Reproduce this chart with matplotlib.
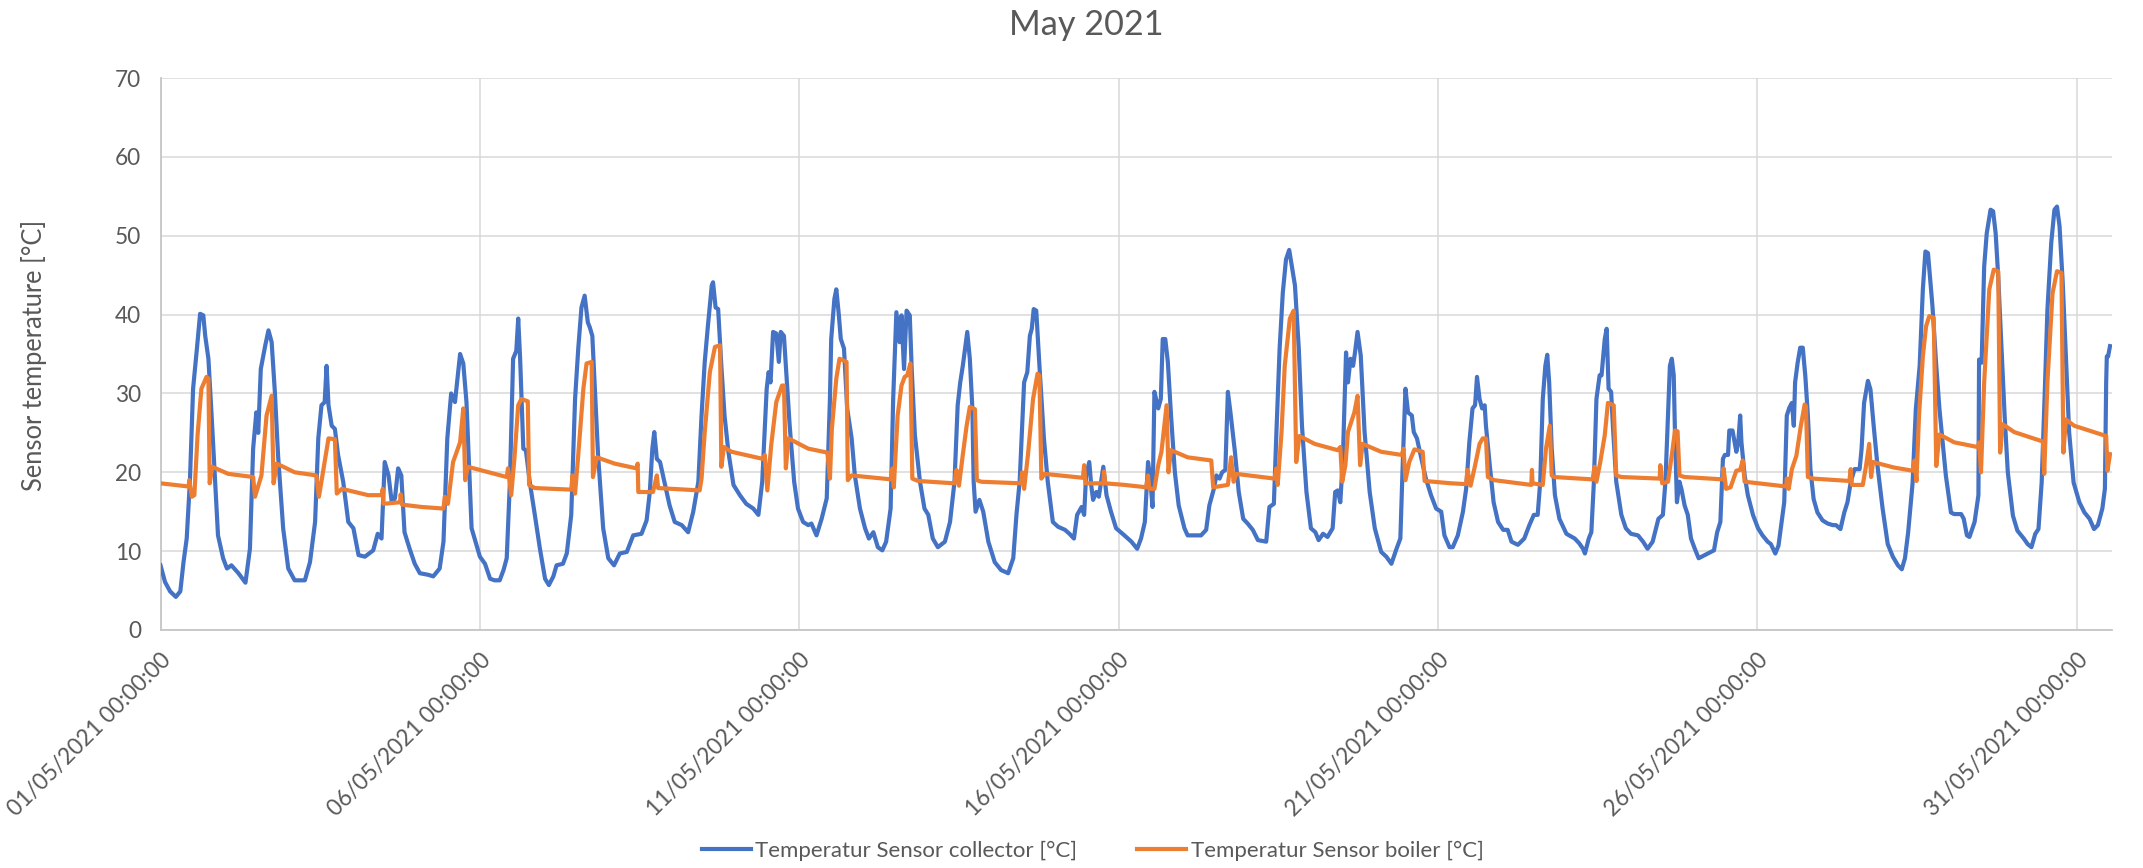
import matplotlib
matplotlib.use("Agg")
import matplotlib.pyplot as plt

# time in days since 01/05/2021 00:00, values in degC
coll_day = [
    0.00, 0.07, 0.15, 0.24, 0.31, 0.36, 0.41, 0.46, 0.51, 0.57, 0.62, 0.67, 0.70, 0.75, 0.80, 0.85, 0.90, 0.98,
    1.04, 1.11, 1.22, 1.33, 1.40, 1.45, 1.50, 1.53, 1.57, 1.64, 1.69, 1.74, 1.79, 1.84, 1.92,
    2.00, 2.10, 2.26, 2.34, 2.42, 2.47, 2.52, 2.57, 2.60, 2.63, 2.68, 2.73, 2.78, 2.86, 2.94,
    3.02, 3.10, 3.20, 3.33, 3.40, 3.46, 3.51, 3.57, 3.62, 3.67, 3.72, 3.77, 3.82, 3.90, 3.98,
    4.06, 4.19, 4.27, 4.37, 4.43, 4.49, 4.55, 4.61, 4.69, 4.74, 4.79, 4.87,
    5.00, 5.08, 5.16, 5.23, 5.31, 5.37, 5.42, 5.47, 5.52, 5.57, 5.60, 5.63, 5.68, 5.72, 5.78, 5.86, 5.94,
    6.02, 6.08, 6.15, 6.20, 6.30, 6.36, 6.43, 6.49, 6.54, 6.59, 6.64, 6.69, 6.72, 6.76, 6.80, 6.85, 6.93,
    7.01, 7.10, 7.19, 7.30, 7.40, 7.53, 7.61, 7.66, 7.70, 7.73, 7.77, 7.82, 7.90, 7.97,
    8.05, 8.16, 8.26, 8.34, 8.42, 8.47, 8.52, 8.57, 8.63, 8.65, 8.69, 8.73, 8.78, 8.83, 8.89, 8.97,
    9.07, 9.17, 9.28, 9.36, 9.42, 9.49, 9.52, 9.55, 9.59, 9.64, 9.68, 9.71, 9.76, 9.80, 9.85, 9.92, 9.98,
    10.06, 10.14, 10.19, 10.27, 10.35, 10.43, 10.48, 10.50, 10.55, 10.58, 10.62, 10.65, 10.70, 10.75, 10.82,
    10.87, 10.95, 11.03, 11.09, 11.16, 11.23, 11.30, 11.36, 11.43, 11.47, 11.52, 11.57, 11.60, 11.64, 11.68,
    11.73, 11.76, 11.81, 11.89, 11.96, 12.02, 12.09, 12.17, 12.28, 12.36, 12.43, 12.48, 12.52, 12.56, 12.63,
    12.67, 12.71, 12.73, 12.76, 12.82, 12.88, 12.96, 13.06, 13.16, 13.27, 13.35, 13.40, 13.45, 13.52, 13.57,
    13.61, 13.64, 13.67, 13.71, 13.76, 13.83, 13.89, 13.97, 14.05, 14.16, 14.23, 14.30, 14.35, 14.42, 14.46,
    14.49, 14.54, 14.57, 14.60, 14.65, 14.69, 14.76, 14.81, 14.88, 14.96,
    15.09, 15.20, 15.29, 15.35, 15.41, 15.46, 15.49, 15.53, 15.56, 15.62, 15.66, 15.69, 15.73, 15.77, 15.82,
    15.88, 15.94, 16.03, 16.08, 16.29, 16.37, 16.42, 16.49, 16.53, 16.58, 16.62, 16.67, 16.71, 16.75, 16.82,
    16.88, 16.95, 17.02, 17.10, 17.18, 17.31, 17.36, 17.43, 17.47, 17.52, 17.57, 17.62, 17.67, 17.71, 17.76,
    17.82, 17.87, 17.94, 18.01, 18.08, 18.13, 18.20, 18.27, 18.35, 18.39, 18.43, 18.47, 18.51, 18.56, 18.59,
    18.63, 18.67, 18.70, 18.74, 18.79, 18.85, 18.93, 19.01, 19.11, 19.19, 19.27, 19.35, 19.41, 19.45, 19.49,
    19.53, 19.59, 19.62, 19.67, 19.74, 19.81, 19.89, 19.97,
    20.05, 20.10, 20.18, 20.23, 20.31, 20.39, 20.44, 20.49, 20.54, 20.58, 20.61, 20.65, 20.69, 20.73, 20.75,
    20.81, 20.87, 20.94, 21.02, 21.09, 21.15, 21.25, 21.35, 21.43, 21.50, 21.56, 21.60, 21.64, 21.68, 21.71,
    21.74, 21.78, 21.83, 21.90, 22.01, 22.14, 22.21, 22.27, 22.30, 22.36, 22.40, 22.44, 22.48, 22.53, 22.56,
    22.61, 22.64, 22.67, 22.71, 22.74, 22.79, 22.87, 22.94, 23.02, 23.13, 23.21, 23.28, 23.36, 23.45, 23.52,
    23.56, 23.60, 23.63, 23.66, 23.69, 23.71, 23.74, 23.78, 23.81, 23.86, 23.91, 23.96, 24.02, 24.08, 24.20,
    24.32, 24.37, 24.42, 24.46, 24.49, 24.54, 24.56, 24.61, 24.67, 24.70, 24.73, 24.75, 24.80, 24.85, 24.93,
    25.01, 25.08, 25.16, 25.21, 25.28, 25.33, 25.38, 25.42, 25.46, 25.50, 25.54, 25.57, 25.59, 25.63, 25.67,
    25.71, 25.75, 25.79, 25.83, 25.88, 25.94, 26.02, 26.10, 26.18, 26.23, 26.30, 26.36, 26.41, 26.46, 26.52,
    26.60, 26.63, 26.67, 26.73, 26.77, 26.82, 26.88, 26.96, 27.04, 27.12, 27.20, 27.26, 27.31, 27.36, 27.43,
    27.48, 27.54, 27.59, 27.63, 27.67, 27.71, 27.74, 27.80, 27.85, 27.90, 27.95, 28.03, 28.08, 28.19, 28.23,
    28.28, 28.32, 28.40, 28.46, 28.47, 28.51, 28.55, 28.59, 28.65, 28.69, 28.73, 28.77, 28.81, 28.87, 28.92,
    29.00, 29.07, 29.17, 29.23, 29.29, 29.35, 29.40, 29.45, 29.50, 29.54, 29.60, 29.65, 29.69, 29.73, 29.78,
    29.83, 29.88, 29.95, 30.04, 30.12, 30.20, 30.27, 30.33, 30.40, 30.44, 30.46, 30.47, 30.49, 30.52,
]
coll_val = [
    8.2, 6.1, 4.9, 4.2, 4.9, 8.6, 11.6, 18.8, 30.6, 35.7, 40.1, 39.9, 37.3, 34.4, 27.2, 19.6, 12.0, 9.1,
    7.8, 8.2, 7.2, 6.0, 10.3, 23.0, 27.6, 25.0, 33.1, 36.1, 38.0, 36.5, 30.2, 22.2, 12.9,
    7.8, 6.3, 6.3, 8.6, 13.7, 24.3, 28.5, 28.9, 33.5, 28.5, 25.9, 25.5, 22.2, 18.8, 13.7,
    12.9, 9.5, 9.3, 10.1, 12.2, 11.6, 21.3, 19.6, 16.2, 16.7, 20.5, 19.6, 12.4, 10.3, 8.4,
    7.2, 7.0, 6.8, 7.8, 11.2, 24.3, 30.0, 28.9, 35.0, 33.8, 28.9, 12.9,
    9.3, 8.4, 6.5, 6.3, 6.3, 7.6, 9.1, 18.8, 34.4, 35.4, 39.5, 34.4, 23.0, 22.8, 18.8, 14.6, 10.3,
    6.5, 5.7, 6.8, 8.2, 8.4, 9.7, 14.6, 29.3, 35.7, 40.9, 42.4, 39.0, 38.4, 37.3, 30.6, 22.2, 12.9,
    9.1, 8.2, 9.7, 9.9, 12.0, 12.2, 13.9, 17.5, 23.0, 25.1, 21.7, 21.3, 18.4, 15.8,
    13.7, 13.3, 12.4, 15.0, 18.8, 27.2, 34.0, 38.6, 43.7, 44.1, 40.9, 40.7, 33.5, 27.2, 22.6, 18.4,
    17.1, 16.0, 15.4, 14.6, 18.8, 30.6, 32.7, 31.4, 37.8, 37.6, 34.0, 37.8, 37.3, 32.3, 25.9, 18.8, 15.4,
    13.7, 13.3, 13.5, 12.0, 14.1, 16.7, 29.3, 36.9, 42.0, 43.2, 39.9, 36.9, 35.7, 28.1, 24.3,
    19.6, 15.4, 12.9, 11.6, 12.4, 10.5, 10.1, 11.2, 15.4, 29.3, 40.3, 36.5, 39.9, 33.1, 40.5,
    39.9, 33.1, 24.7, 18.8, 15.4, 14.6, 11.6, 10.5, 11.2, 13.7, 18.8, 28.5, 31.4, 33.5, 37.8,
    34.4, 28.1, 18.8, 15.0, 16.5, 15.0, 11.2, 8.6, 7.6, 7.2, 9.1, 14.6, 18.8, 31.4, 32.7,
    37.3, 38.2, 40.7, 40.5, 33.5, 24.3, 18.8, 13.7, 13.1, 12.7, 12.2, 11.6, 14.6, 15.6, 14.6,
    19.6, 21.3, 18.4, 16.5, 17.5, 16.9, 20.7, 17.1, 15.0, 12.9,
    12.0, 11.2, 10.3, 11.6, 13.7, 21.3, 19.6, 15.6, 30.2, 28.1, 29.3, 36.9, 36.9, 34.0, 27.2,
    20.0, 15.8, 12.9, 12.0, 12.0, 12.7, 15.8, 17.9, 19.6, 19.2, 20.0, 20.3, 30.2, 27.6, 22.6,
    17.5, 14.1, 13.5, 12.7, 11.4, 11.2, 15.6, 16.0, 25.1, 35.7, 42.8, 47.0, 48.2, 46.2, 43.7,
    35.7, 25.9, 17.5, 12.9, 12.4, 11.4, 12.2, 11.8, 12.9, 17.5, 17.7, 16.2, 21.7, 35.2, 31.4,
    34.4, 33.5, 35.2, 37.8, 34.8, 25.1, 17.5, 12.9, 9.9, 9.3, 8.4, 10.3, 11.6, 21.7, 30.6,
    27.6, 27.2, 25.1, 24.3, 21.7, 19.2, 17.1, 15.4,
    15.0, 12.0, 10.5, 10.5, 12.0, 15.0, 17.9, 23.8, 28.1, 28.5, 32.1, 29.3, 28.1, 28.5, 25.9,
    20.9, 16.2, 13.7, 12.7, 12.7, 11.2, 10.8, 11.6, 13.3, 14.6, 14.6, 18.8, 29.3, 33.5, 34.9,
    31.4, 23.0, 17.1, 14.1, 12.2, 11.6, 11.0, 10.3, 9.7, 11.6, 12.4, 18.8, 29.3, 32.3, 32.3,
    36.9, 38.2, 30.6, 30.2, 25.5, 18.8, 14.6, 12.9, 12.2, 12.0, 11.2, 10.3, 11.2, 14.1, 14.6,
    18.8, 27.2, 33.5, 34.4, 32.3, 24.7, 16.2, 18.8, 17.9, 15.8, 14.6, 11.6, 10.3, 9.1, 9.6,
    10.1, 12.4, 13.7, 21.7, 22.2, 22.2, 25.3, 25.3, 22.6, 23.8, 27.2, 23.8, 19.6, 17.1, 14.6,
    12.9, 12.0, 11.2, 10.9, 9.7, 10.7, 13.7, 16.2, 27.2, 28.2, 28.8, 25.9, 31.4, 33.9, 35.8,
    35.8, 32.2, 27.2, 20.4, 16.6, 14.9, 13.9, 13.5, 13.3, 13.3, 12.8, 14.9, 16.2, 18.7, 20.4,
    20.4, 22.9, 28.8, 31.6, 30.5, 25.9, 20.8, 15.4, 10.9, 9.3, 8.2, 7.7, 9.1, 12.4, 18.7,
    28.0, 33.5, 43.2, 48.0, 47.8, 44.0, 41.1, 33.5, 28.0, 23.8, 19.6, 14.9, 14.7, 14.7, 14.1,
    12.0, 11.8, 13.7, 17.1, 34.3, 33.9, 46.1, 50.3, 53.3, 53.1, 50.3, 44.8, 37.7, 27.2, 20.0,
    14.5, 12.6, 11.6, 10.9, 10.5, 12.2, 12.8, 18.7, 30.5, 40.6, 49.1, 53.3, 53.7, 51.2, 44.0,
    34.7, 25.1, 18.7, 16.2, 14.9, 14.1, 12.8, 13.3, 15.4, 17.9, 31.4, 34.7, 34.7, 36.0,
]

boil_day = [
    0.00, 0.44, 0.45, 0.49, 0.53, 0.58, 0.64, 0.72, 0.75, 0.77, 0.81, 1.06, 1.45, 1.48, 1.58, 1.66, 1.74,
    1.77, 1.82, 2.10, 2.44, 2.48, 2.57, 2.63, 2.73, 2.76, 2.84, 3.25, 3.46, 3.48, 3.49, 3.75, 3.76, 3.78,
    4.09, 4.43, 4.45, 4.50, 4.58, 4.69, 4.74, 4.77, 4.81,
    5.42, 5.44, 5.49, 5.54, 5.60, 5.65, 5.75, 5.77, 5.86, 6.43, 6.45, 6.49, 6.54, 6.62, 6.67, 6.75, 6.77,
    6.83, 7.11, 7.45, 7.47, 7.48, 7.71, 7.77, 7.79, 8.44, 8.47, 8.52, 8.60, 8.68, 8.76, 8.78, 8.82, 8.94,
    9.43, 9.46, 9.50, 9.56, 9.64, 9.73, 9.76, 9.79, 9.83,
    10.14, 10.44, 10.48, 10.51, 10.58, 10.63, 10.74, 10.76, 10.82, 11.44, 11.46, 11.48, 11.54, 11.60, 11.65,
    11.69, 11.74, 11.77, 11.86, 12.43, 12.46, 12.50, 12.56, 12.62, 12.67, 12.75, 12.78, 12.85, 13.47, 13.49,
    13.52, 13.58, 13.66, 13.73, 13.76, 13.79, 13.84, 14.44, 14.46, 14.48, 14.76, 14.77, 14.79,
    15.09, 15.43, 15.46, 15.48, 15.56, 15.62, 15.67, 15.71, 15.75, 15.78, 15.82, 16.08, 16.45, 16.48, 16.71,
    16.76, 16.80, 16.84, 17.44, 17.47, 17.49, 17.55, 17.60, 17.68, 17.74, 17.78, 17.83, 18.07, 18.43, 18.47,
    18.50, 18.55, 18.59, 18.69, 18.74, 18.78, 18.82, 19.11, 19.43, 19.46, 19.49, 19.55, 19.63, 19.76, 19.79,
    20.21, 20.44, 20.46, 20.51, 20.57, 20.65, 20.70, 20.75, 20.78, 20.88, 21.46, 21.47, 21.48, 21.64, 21.69,
    21.75, 21.78, 21.82, 22.42, 22.45, 22.48, 22.54, 22.61, 22.66, 22.75, 22.79, 22.87, 23.47, 23.48, 23.51,
    23.60, 23.66, 23.71, 23.75, 23.78, 23.86, 24.46, 24.47, 24.51, 24.58, 24.67, 24.73, 24.77, 24.80,
    25.45, 25.46, 25.49, 25.54, 25.61, 25.68, 25.74, 25.76, 25.79, 25.87, 26.44, 26.46, 26.48, 26.65, 26.70,
    26.75, 26.78, 26.81, 27.14, 27.43, 27.46, 27.49, 27.53, 27.59, 27.64, 27.69, 27.76, 27.80, 27.85, 28.08,
    28.45, 28.47, 28.50, 28.55, 28.63, 28.70, 28.77, 28.80, 28.84, 29.02, 29.47, 29.49, 29.54, 29.62, 29.69,
    29.76, 29.79, 29.83, 29.96, 30.46, 30.48, 30.52,
]
boil_val = [
    18.6, 18.2, 19.0, 16.9, 17.1, 24.7, 30.6, 32.1, 31.9, 18.6, 20.7, 19.8, 19.4, 16.9, 19.6, 27.2, 29.7,
    18.6, 21.1, 20.0, 19.6, 16.9, 21.3, 24.3, 24.2, 17.3, 17.9, 17.1, 17.1, 17.9, 16.0, 16.2, 17.2, 15.9,
    15.6, 15.4, 16.9, 16.0, 21.3, 23.8, 28.1, 19.0, 20.7,
    19.4, 20.5, 17.1, 21.7, 28.5, 29.3, 29.0, 18.4, 18.0, 17.8, 19.6, 17.3, 22.2, 30.6, 33.8, 34.0, 19.4,
    21.9, 21.1, 20.5, 21.1, 17.5, 17.5, 19.6, 18.0, 17.7, 19.2, 25.1, 32.7, 35.9, 36.1, 20.7, 23.2, 22.6,
    21.7, 22.2, 17.7, 23.4, 28.9, 31.0, 31.0, 20.5, 24.3,
    23.0, 22.5, 19.2, 25.5, 31.9, 34.4, 34.0, 19.0, 19.6, 19.1, 20.5, 18.1, 27.2, 31.0, 32.1,
    32.3, 33.8, 19.2, 18.9, 18.6, 20.3, 18.3, 22.2, 25.9, 28.3, 28.0, 19.0, 18.8, 18.6, 20.0,
    17.9, 22.2, 29.3, 32.5, 32.3, 19.2, 19.8, 19.3, 20.9, 18.6, 18.6, 20.1, 18.6,
    18.4, 18.1, 19.6, 17.9, 17.9, 20.9, 22.6, 25.5, 28.5, 20.0, 22.8, 21.9, 21.5, 18.1, 18.4,
    21.9, 18.8, 19.8, 19.2, 20.5, 18.4, 25.1, 33.5, 39.5, 40.5, 21.3, 24.6, 23.6, 22.8, 23.2,
    18.8, 20.9, 25.1, 27.6, 29.7, 20.9, 23.6, 22.6, 22.2, 23.0, 19.0, 21.3, 22.9, 22.6, 18.9,
    18.6, 18.5, 20.3, 18.3, 20.5, 23.6, 24.3, 24.3, 19.4, 19.0, 18.4, 20.3, 18.6, 18.4, 23.0,
    25.9, 19.6, 19.4, 19.1, 20.7, 18.8, 21.3, 24.7, 28.8, 28.5, 19.6, 19.4, 19.2, 20.9, 18.6,
    18.8, 22.2, 25.3, 25.2, 19.6, 19.4, 19.1, 20.5, 17.9, 18.1, 20.2, 20.3, 21.5, 18.8,
    18.2, 19.2, 17.9, 20.4, 22.1, 25.9, 28.6, 28.4, 19.4, 19.2, 18.9, 20.4, 18.4, 18.4, 20.8,
    23.6, 19.4, 21.3, 20.6, 20.2, 21.5, 18.9, 27.2, 34.7, 38.5, 39.8, 39.6, 20.8, 24.8, 23.8,
    23.2, 23.8, 20.0, 31.4, 43.2, 45.7, 45.5, 22.5, 26.1, 25.1, 23.9, 19.8, 31.4, 42.7, 45.5,
    45.3, 22.5, 26.7, 25.9, 24.6, 20.2, 22.3,
]

tick_days = [0, 5, 10, 15, 20, 25, 30]
tick_labels = ["01/05/2021 00:00:00", "06/05/2021 00:00:00", "11/05/2021 00:00:00",
               "16/05/2021 00:00:00", "21/05/2021 00:00:00", "26/05/2021 00:00:00",
               "31/05/2021 00:00:00"]
y_ticks = [0, 10, 20, 30, 40, 50, 60, 70]

plt.rcParams['font.family'] = ['Lato', 'DejaVu Sans']
txt = '#595959'

fig = plt.figure(figsize=(21.43, 8.68), dpi=100)
ax = fig.add_axes([0.0749, 0.2742, 0.9106, 0.6359])

ax.plot(coll_day, coll_val, color='#4472C4', lw=3.0, solid_joinstyle='round',
        label='Temperatur Sensor collector [°C]', zorder=3)
ax.plot(boil_day, boil_val, color='#ED7D31', lw=3.0, solid_joinstyle='round',
        label='Temperatur Sensor boiler [°C]', zorder=4)

ax.set_xlim(0, 30.55)
ax.set_ylim(0, 70)
ax.set_xticks(tick_days)
ax.set_xticklabels(tick_labels, rotation=45, ha='right', va='top',
                   rotation_mode='anchor', fontsize=16.3, color=txt)
ax.set_yticks(y_ticks)
ax.set_yticklabels([str(v) for v in y_ticks], fontsize=16.3, color=txt)
ax.tick_params(axis='x', length=0, pad=14)
ax.tick_params(axis='y', length=0, pad=14)
ax.grid(True, color='#d9d9d9', lw=1.1)
ax.set_axisbelow(True)
for s in ['top', 'right']:
    ax.spines[s].set_visible(False)
for s in ['left', 'bottom']:
    ax.spines[s].set_color('#c6c6c6')
    ax.spines[s].set_linewidth(1.3)

fig.text(0.0159, 0.591, 'Sensor temperature [°C]', rotation=90, ha='center', va='center',
         fontsize=18.4, color=txt)
fig.text(0.507, 0.971, 'May 2021', ha='center', va='center', fontsize=24.7, color=txt)

fig.legend(loc='center', bbox_to_anchor=(0.51, 0.0196), ncol=2, frameon=False,
           fontsize=16, labelcolor=txt, handlelength=2.2, handletextpad=0.2,
           columnspacing=2.7)

fig.savefig('out.png', dpi=100)
